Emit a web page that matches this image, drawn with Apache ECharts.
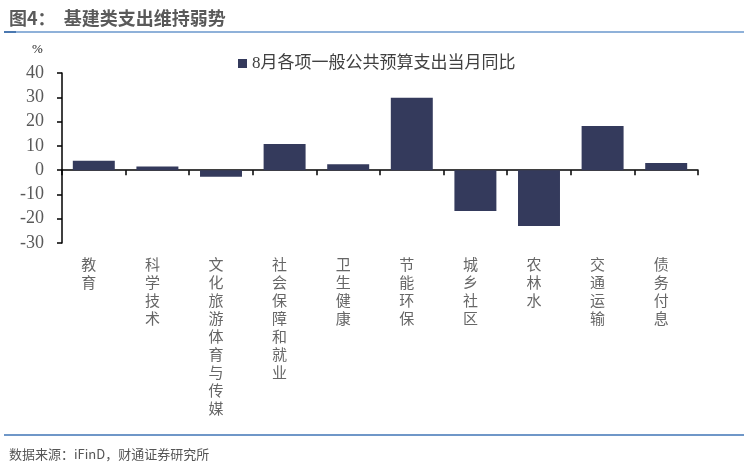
<!DOCTYPE html>
<html>
<head>
<meta charset="utf-8">
<script src="https://cdn.jsdelivr.net/npm/echarts@6/dist/echarts.min.js"></script>
<style>
  html, body { margin: 0; padding: 0; background: #fff; }
  #chart { width: 748px; height: 466px; }
</style>
</head>
<body>
<div id="chart"></div>
<script>
// 数据
var categories = ['教育', '科学技术', '文化旅游体育与传媒', '社会保障和就业', '卫生健康',
    '节能环保', '城乡社区', '农林水', '交通运输', '债务付息'];
var values = [3.9, 1.5, -2.7, 10.8, 2.4, 29.8, -16.8, -23.0, 18.2, 2.9];
var seriesName = '8月各项一般公共预算支出当月同比';

var chart = echarts.init(document.getElementById('chart'));

var option = {
    backgroundColor: '#fff',
    animation: false,
    title: [
        {
            text: '图4：  基建类支出维持弱势',
            left: 4,
            top: 4,
            textStyle: { fontSize: 18, fontWeight: 'bold', color: '#5a5a5a', fontFamily: 'Noto Sans CJK SC' }
        },
        {
            text: '数据来源：iFinD，财通证券研究所',
            left: 4,
            top: 443,
            textStyle: { fontSize: 13, fontWeight: 'normal', color: '#555', fontFamily: 'Noto Sans CJK SC' }
        }
    ],
    graphic: [
        { type: 'rect', shape: { x: 4, y: 31, width: 740, height: 2 }, style: { fill: '#8fb1d9' } },
        { type: 'rect', shape: { x: 4, y: 31, width: 12, height: 2 }, style: { fill: '#4a78b0' } },
        { type: 'rect', shape: { x: 4, y: 434, width: 740, height: 2 }, style: { fill: '#6f97c8' } },
        {
            type: 'text', left: 32, top: 43,
            style: { text: '%', fontSize: 13, fill: '#222', fontFamily: 'Liberation Serif' }
        }
    ],
    legend: {
        data: [seriesName],
        left: 233,
        top: 50,
        icon: 'rect',
        itemWidth: 9,
        itemHeight: 9,
        itemGap: 4,
        textStyle: { fontSize: 17, color: '#404040', fontFamily: 'Liberation Serif, Noto Sans CJK SC' }
    },
    grid: { left: 62, right: 50, top: 73, bottom: 223, containLabel: false, outerBoundsMode: 'none' },
    xAxis: {
        type: 'category',
        data: categories,
        axisLine: { onZero: true, lineStyle: { color: '#000', width: 1.5 } },
        axisTick: { show: true, length: 5, alignWithLabel: false, lineStyle: { color: '#000', width: 1.5 } },
        axisLabel: {
            interval: 0,
            margin: 12,
            verticalAlign: 'top',
            fontSize: 15,
            lineHeight: 18,
            padding: [0, 10, 0, 0],
            color: '#666',
            fontFamily: 'Noto Sans CJK SC',
            formatter: function (v) { return v.split('').join('\n'); }
        }
    },
    yAxis: {
        type: 'value',
        min: -30,
        max: 40,
        interval: 10,
        splitLine: { show: false },
        axisLine: { show: true, lineStyle: { color: '#000', width: 1.5 } },
        axisTick: { show: true, length: 5, lineStyle: { color: '#000', width: 1.5 } },
        axisLabel: { fontSize: 18, color: '#595959', margin: 18, fontFamily: 'Liberation Serif' }
    },
    series: [
        {
            name: seriesName,
            type: 'bar',
            data: values,
            barCategoryGap: '34%',
            itemStyle: { color: '#343a5c' }
        }
    ]
};

chart.setOption(option);
</script>
</body>
</html>
